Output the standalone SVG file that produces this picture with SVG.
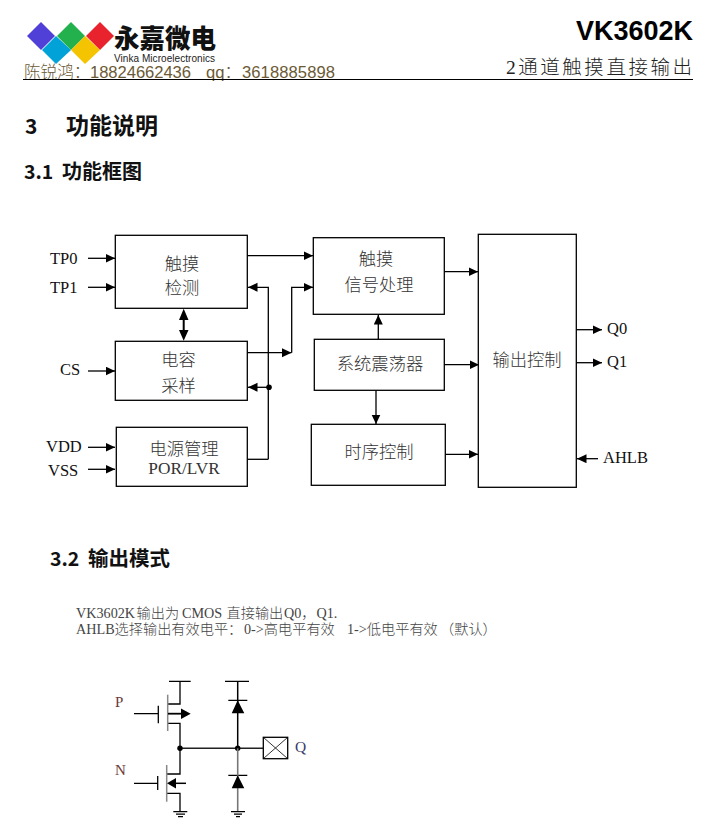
<svg xmlns="http://www.w3.org/2000/svg" width="709" height="827" viewBox="0 0 709 827">
<style>
.cn{font-family:"Liberation Serif","Noto Sans CJK SC",serif;font-size:17.3px;font-weight:300;fill:#333}
.lb{font-family:"Liberation Serif","Noto Sans CJK SC",serif;font-size:16.5px;fill:#111}
.h{font-family:"Noto Sans CJK SC","Liberation Sans",sans-serif;font-weight:700;fill:#111}
.b{fill:#fff;stroke:#000;stroke-width:1.3}
.w{fill:none;stroke:#000;stroke-width:1.3}
.g{fill:none;stroke:#888;stroke-width:1.5}
.a{marker-end:url(#ah)}
.t{font-family:"Liberation Serif","Noto Sans CJK SC",serif;font-size:14.2px;font-weight:300;fill:#444}
.c{font-family:"Liberation Sans","Noto Sans CJK SC",sans-serif;font-size:16.6px;font-weight:300;fill:#6b5a35}
.m{font-family:"Liberation Serif",serif}
</style>
<defs>
<marker id="ah" markerUnits="userSpaceOnUse" markerWidth="11" markerHeight="10" refX="9.5" refY="4.5" orient="auto"><path d="M0 0L9.5 4.5L0 9Z" fill="#000"/></marker>
</defs>
<rect width="709" height="827" fill="#fff"/>
<g id="logo">
<path d="M41 22L55 36L41 50L27 36Z" fill="#5040d8"/>
<path d="M71 22L85 36L71 50L57 36Z" fill="#22b14c"/>
<path d="M100 22L114 36L100 50L86 36Z" fill="#e8232e"/>
<path d="M56 36L71 50L56 64L42 50Z" fill="#00a2d8"/>
<path d="M85 36L100 50L85 64L71 50Z" fill="#f5c400"/>
<text x="114" y="48" textLength="102" lengthAdjust="spacingAndGlyphs" style="font-family:'Noto Sans CJK SC',sans-serif;font-weight:900;font-size:26px;fill:#111">永嘉微电</text>
<text x="114" y="62" textLength="101" style="font-family:'Liberation Sans',sans-serif;font-size:10px;fill:#222">Vinka Microelectronics</text>
</g>
<g id="header">
<text class="c" x="24" y="78">陈锐鸿：</text>
<text class="c" x="90" y="78" textLength="101">18824662436</text>
<text class="c" x="206" y="78">qq：</text>
<text class="c" x="242" y="78" textLength="93">3618885898</text>
<text x="693" y="40" text-anchor="end" style="font-family:'Liberation Sans',sans-serif;font-weight:700;font-size:27px;fill:#000">VK3602K</text>
<text x="506" y="74" textLength="186" style="font-family:'Liberation Serif','Noto Sans CJK SC',serif;font-size:19.5px;font-weight:300;fill:#222">2通道触摸直接输出</text>
<path d="M23 79.5H693" stroke="#000" stroke-width="1.2"/>
</g>
<g id="headings">
<text class="h" x="25" y="134" font-size="21">3</text>
<text class="h" x="66" y="134" font-size="23">功能说明</text>
<text class="h" x="24" y="179" font-size="19.5">3.1</text>
<text class="h" x="62" y="179" font-size="20">功能框图</text>
<text class="h" x="50" y="566" font-size="19.5">3.2</text>
<text class="h" x="88" y="566" font-size="20.5">输出模式</text>
</g>
<g id="connectors">
<path class="w a" d="M88 258.3H115"/>
<path class="w a" d="M88 287.3H115"/>
<path class="w a" d="M88 371H115"/>
<path class="w a" d="M88 447.3H115"/>
<path class="w a" d="M88 469.3H115"/>
<path class="w a" d="M247 255.7H313"/>
<path class="w a" d="M268.3 459.3V287.3H248"/>
<path class="w" d="M247 459.3H268.3"/>
<path class="w a" d="M268.3 387.3H248"/>
<circle cx="269" cy="387.3" r="2.8" fill="#000"/>
<path class="w a" d="M247 352.7H291.5"/>
<path class="w a" d="M291.7 352.7V287.3H313"/>
<path d="M183.7 318V331" stroke="#000" stroke-width="2"/>
<path d="M183.7 308.8L188.5 320H179ZM183.7 340.8L188.5 330H179Z" fill="#000"/>
<path class="w a" d="M444 271.7H478"/>
<path class="w a" d="M378.3 339V315"/>
<path class="w a" d="M444 364.7H479"/>
<path class="w a" d="M376 390V424"/>
<path class="w a" d="M445 454.3H478"/>
<path class="w a" d="M576 329.7H602"/>
<path class="w a" d="M576 362.7H602"/>
<path class="w a" d="M598 458.7H577"/>
</g>
<g id="node-touch"><rect class="b" x="115.3" y="235.3" width="132" height="73"/><text class="cn" x="182" y="270" text-anchor="middle">触摸</text><text class="cn" x="182" y="294" text-anchor="middle">检测</text></g>
<g id="node-cap"><rect class="b" x="115.3" y="341.3" width="132" height="59"/><text class="cn" x="178.500" y="366" text-anchor="middle">电容</text><text class="cn" x="178.500" y="392" text-anchor="middle">采样</text></g>
<g id="node-power"><rect class="b" x="116.3" y="427.3" width="131" height="59"/><text class="cn" x="184" y="455" text-anchor="middle">电源管理</text><text class="cn" x="184" y="474" text-anchor="middle">POR/LVR</text></g>
<g id="node-signal"><rect class="b" x="313.3" y="237.7" width="131" height="76.6"/><text class="cn" x="376" y="265" text-anchor="middle">触摸</text><text class="cn" x="379" y="291" text-anchor="middle">信号处理</text></g>
<g id="node-osc"><rect class="b" x="314.3" y="339.3" width="130" height="51"/><text class="cn" x="380" y="370" text-anchor="middle">系统震荡器</text></g>
<g id="node-timing"><rect class="b" x="311.3" y="424.3" width="134" height="61"/><text class="cn" x="379" y="458" text-anchor="middle">时序控制</text></g>
<g id="node-output"><rect class="b" x="478.3" y="234.3" width="98" height="253"/><text class="cn" x="527" y="366" text-anchor="middle">输出控制</text></g>
<g id="labels">
<text class="lb" x="50" y="264">TP0</text>
<text class="lb" x="50" y="293">TP1</text>
<text class="lb" x="60" y="375">CS</text>
<text class="lb" x="46" y="452">VDD</text>
<text class="lb" x="48" y="476">VSS</text>
<text class="lb" x="607" y="334">Q0</text>
<text class="lb" x="607" y="367">Q1</text>
<text class="lb" x="603" y="463">AHLB</text>
</g>
<g id="desc">
<text class="t" y="618"><tspan x="76">VK3602K</tspan><tspan x="136.500">输出为</tspan><tspan x="182">CMOS</tspan><tspan x="226.500">直接输出</tspan><tspan x="284">Q0，</tspan><tspan x="316.500">Q1.</tspan></text>
<text class="t" y="634"><tspan x="76">AHLB选择输出有效电平：</tspan><tspan x="244">0-&gt;高电平有效</tspan><tspan x="347">1-&gt;低电平有效</tspan><tspan x="440">（默认）</tspan></text>
</g>
<g id="circuit">
<path class="w" d="M169 681.3H190.7M180 681.3V704H168M168 723.3H180V748.3M134 713.7H158.3M158.3 705.7V723.3"/>
<path class="g" d="M167.7 694.7V731"/>
<path d="M168 713.7H181" stroke="#000" stroke-width="1.8"/><path d="M181 708.5L190.7 713.7L181 719Z" fill="#000"/>
<path class="w" d="M180 748.3V774H167M167 793.3H180V811.7M134 783.3H157.7M157.7 776V790"/>
<path class="g" d="M166.7 765V801.7"/>
<path d="M186 783.3H175" stroke="#000" stroke-width="1.5"/><path d="M176 778L167 783.3L176 788.5Z" fill="#000"/>
<path class="w" d="M173.3 811.7H187.3M176 814.2H185M178 816.7H183"/>
<path d="M180 748.3H263" stroke="#222" stroke-width="1.6"/>
<circle cx="180" cy="748.3" r="2.7" fill="#000"/><circle cx="237.7" cy="748.3" r="2.7" fill="#000"/>
<rect class="b" x="263.3" y="737.3" width="24.4" height="21.4"/>
<path d="M263.3 737.3L287.7 758.7M287.7 737.3L263.3 758.7" stroke="#000" stroke-width="0.8"/>
<path class="w" d="M225 681.3H249M228.3 700.3H247.3M228.3 775.3H247.3"/>
<path d="M237.7 681.3V748.3" stroke="#000" stroke-width="1.5"/>
<path d="M237.7 748.3V811" stroke="#777" stroke-width="1.6"/>
<path d="M237.7 700.3L244.3 713.3H231.7ZM237.7 775.3L244.3 788.3H231.7Z" fill="#000"/>
<path class="w" d="M231 811.7H245M234 814.2H242M236 816.7H240"/>
<text class="m" x="115" y="707" font-size="15" fill="#6b3a3a">P</text>
<text class="m" x="115" y="775" font-size="15" fill="#6b3a3a">N</text>
<text class="m" x="295" y="752" font-size="15.5" fill="#3a3a6b">Q</text>
</g>
</svg>
